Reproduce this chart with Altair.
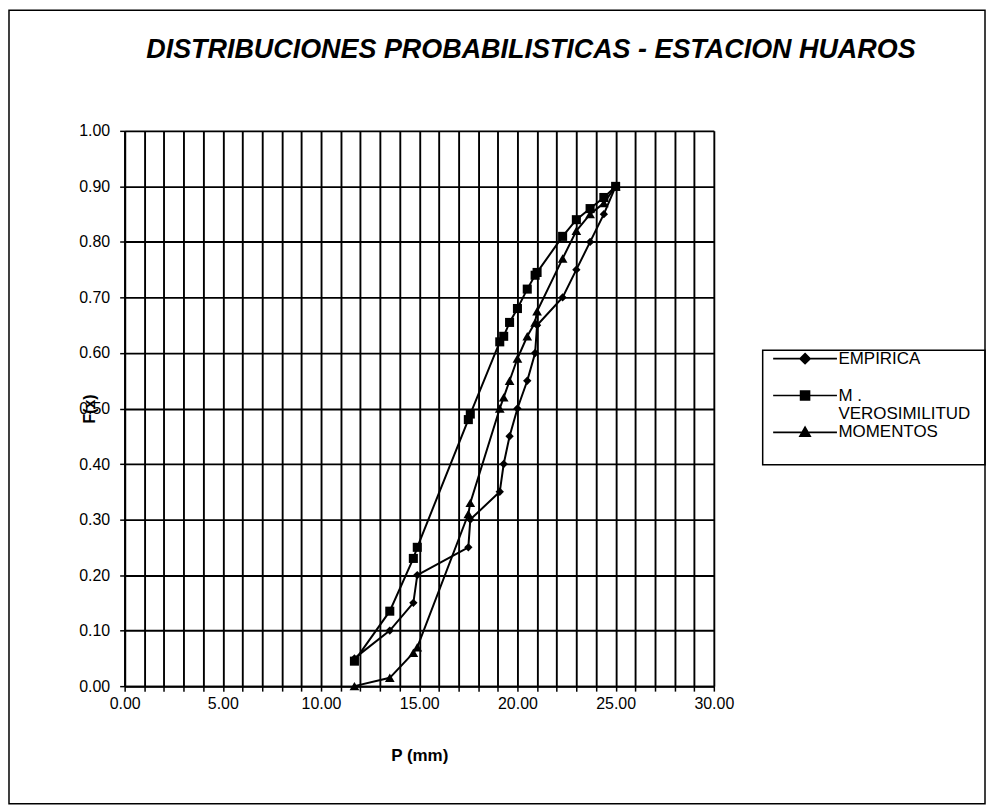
import altair as alt
import pandas as pd

# ---- data ----
P = [11.7, 13.5, 14.7, 14.9, 17.5, 17.6, 19.1, 19.3, 19.6, 20.0, 20.5, 20.9, 21.0, 22.3, 23.0, 23.7, 24.4, 25.0]
EMPIRICA = [0.05, 0.10, 0.15, 0.20, 0.25, 0.30, 0.35, 0.40, 0.45, 0.50, 0.55, 0.60, 0.65, 0.70, 0.75, 0.80, 0.85, 0.90]
VEROSIMILITUD = [0.045, 0.135, 0.23, 0.25, 0.48, 0.49, 0.62, 0.63, 0.655, 0.68, 0.715, 0.74, 0.745, 0.81, 0.84, 0.86, 0.88, 0.90]
MOMENTOS = [0.00, 0.015, 0.06, 0.07, 0.31, 0.33, 0.50, 0.52, 0.55, 0.59, 0.63, 0.655, 0.675, 0.77, 0.82, 0.85, 0.87, 0.90]
SERIES = ["EMPIRICA", "M. VEROSIMILITUD", "MOMENTOS"]
X_TICKS = [0, 1, 2, 3, 4, 5, 6, 7, 8, 9, 10, 11, 12, 13, 14, 15, 16, 17, 18, 19, 20,
           21, 22, 23, 24, 25, 26, 27, 28, 29, 30]
Y_TICKS = [0.0, 0.1, 0.2, 0.3, 0.4, 0.5, 0.6, 0.7, 0.8, 0.9, 1.0]
TITLE = "DISTRIBUCIONES PROBABILISTICAS - ESTACION HUAROS"

rows = []
for name, vals in zip(SERIES, [EMPIRICA, VEROSIMILITUD, MOMENTOS]):
    for p, f in zip(P, vals):
        rows.append({"serie": name, "P": p, "F": f})
df = pd.DataFrame(rows)

FONT = "Liberation Sans"
W, H = 591, 557
PAD = {"left": 117, "top": 122, "right": 273, "bottom": 119}

x_axis = alt.Axis(
    values=X_TICKS,
    labelExpr="datum.value % 5 == 0 ? format(datum.value, '.2f') : ''",
    title="P (mm)",
    grid=True, gridColor="#000", gridWidth=1.9, gridOpacity=1,
    domainColor="#000", domainWidth=2,
    tickColor="#000", tickSize=5, tickWidth=1.5,
    labelFont=FONT, labelFontSize=16, labelColor="#000", labelPadding=4,
    labelFlush=False, labelOverlap=False,
    titleFont=FONT, titleFontSize=17, titleFontWeight="bold", titleColor="#000",
    titlePadding=37,
)
y_axis = alt.Axis(
    values=Y_TICKS, format=".2f",
    title="F(x)",
    grid=True, gridColor="#000", gridWidth=1.9, gridOpacity=1,
    domainColor="#000", domainWidth=2,
    tickColor="#000", tickSize=5, tickWidth=1.5,
    labelFont=FONT, labelFontSize=16, labelColor="#000", labelPadding=10,
    labelFlush=False, labelOverlap=False,
    titleFont=FONT, titleFontSize=16, titleFontWeight="bold", titleColor="#000",
    titleX=-27, titleY=H / 2, titleAngle=270,
)


def xe():
    return alt.X("P:Q", scale=alt.Scale(domain=[0, 30], nice=False, zero=False), axis=x_axis)


def ye():
    return alt.Y("F:Q", scale=alt.Scale(domain=[0, 1], nice=False), axis=y_axis)


base = alt.Chart(df)

lines = base.mark_line(color="#000", strokeWidth=2).encode(
    x=xe(), y=ye(), detail="serie:N", order="P:Q"
)
points = base.mark_point(filled=True, color="#000", opacity=1).encode(
    x=xe(), y=ye(),
    shape=alt.Shape("serie:N", scale=alt.Scale(domain=SERIES, range=["diamond", "square", "triangle-up"]), legend=None),
    size=alt.Size("serie:N", scale=alt.Scale(domain=SERIES, range=[70, 95, 95]), legend=None),
)

# legend symbols: a line with the marker in the middle
p_diamond = "M-1,0L20.33,0M9.67,-1.7L11.37,0L9.67,1.7L7.97,0Z"
p_square = "M-1,0L20.33,0M8.17,-1.5L11.17,-1.5L11.17,1.5L8.17,1.5Z"
p_triangle = "M-1,0L20.33,0M9.67,-1.8L11.4,1.3L7.94,1.3Z"

ghost = base.transform_filter("false").mark_point(
    filled=True, fill="#000", stroke="#000", strokeWidth=1.6, size=36, opacity=1
).encode(
    x=xe(), y=ye(),
    shape=alt.Shape(
        "serie:N",
        scale=alt.Scale(domain=SERIES, range=[p_diamond, p_square, p_triangle]),
        legend=alt.Legend(
            title=None, orient="none", legendX=645, legendY=220,
            labelFont=FONT, labelFontSize=17, labelColor="#000", labelLimit=0,
            labelOffset=54, symbolSize=36, symbolStrokeWidth=1.6, rowPadding=0,
            labelExpr="datum.label == 'M. VEROSIMILITUD' ? ['M .', 'VEROSIMILITUD'] : (datum.label == 'EMPIRICA' ? ['EMPIRICA', ' '] : datum.label)",
        ),
    ),
)

frame = alt.Chart(alt.Data(values=[{"k": 1}])).mark_rect(
    fill="#fff", fillOpacity=0, stroke="#000", strokeWidth=1.5
).encode(
    x=alt.value(-PAD["left"] + 1), x2=alt.value(W + PAD["right"] - 1),
    y=alt.value(-PAD["top"] + 1), y2=alt.value(H + PAD["bottom"] - 1),
)
legend_box = alt.Chart(alt.Data(values=[{"k": 1}])).mark_rect(
    fill="#fff", fillOpacity=0, stroke="#000", strokeWidth=1.5
).encode(
    x=alt.value(640), x2=alt.value(863), y=alt.value(220), y2=alt.value(335),
)

chart = alt.layer(frame, legend_box, lines, points, ghost).resolve_scale(
    shape="independent", size="independent"
).resolve_legend(shape="independent").properties(
    width=W, height=H,
    autosize=alt.AutoSizeParams(type="none"),
    padding=PAD,
    title=alt.TitleParams(
        TITLE, font=FONT, fontSize=27, fontWeight="bold", fontStyle="italic",
        color="#000", anchor="middle", dx=112, offset=-76, baseline="alphabetic",
    ),
).configure_view(stroke="#000", strokeWidth=2).configure(background="#fff")

chart.save("out.html", embed_options={"renderer": "svg", "actions": False})
